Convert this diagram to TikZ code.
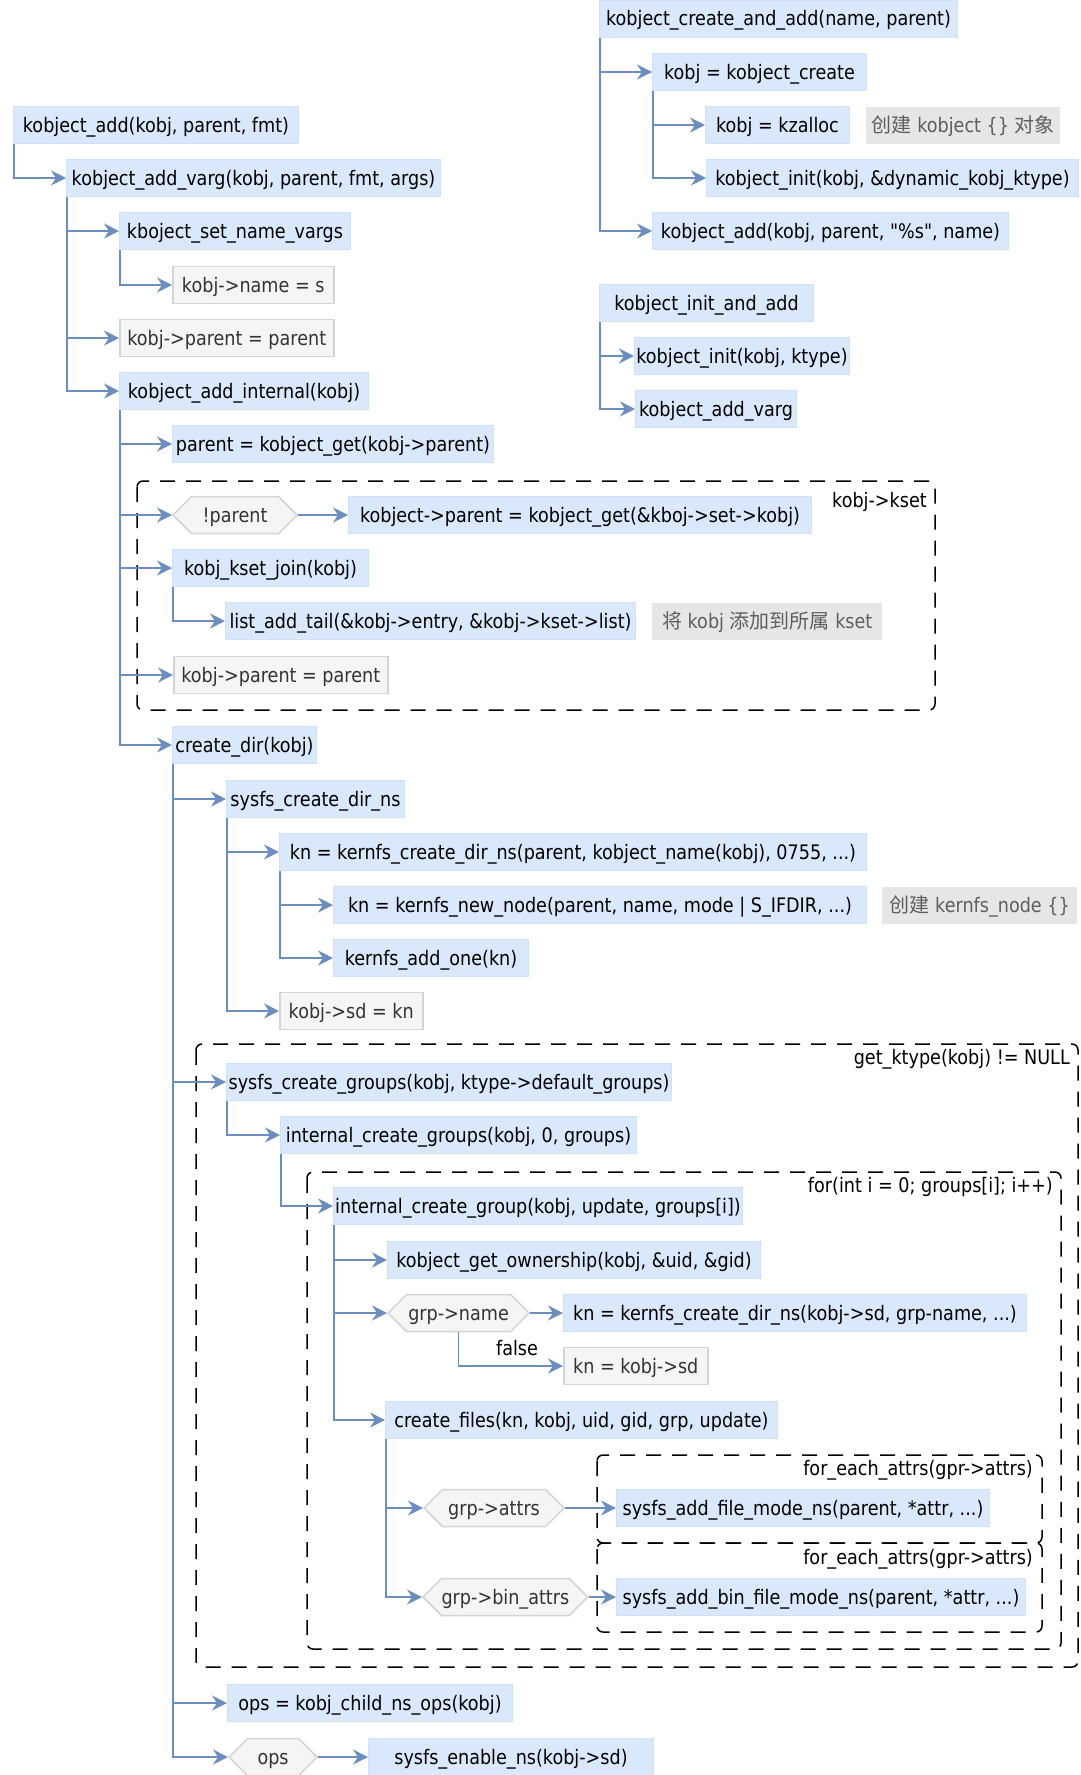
\documentclass[tikz,border=0pt]{standalone}
\usepackage{fontspec}
\setmainfont{DejaVu Sans}[FakeStretch=0.88, Ligatures=TeXOff]
\newfontfamily\cjk{Noto Sans CJK SC}
\usepackage{xcolor}
\usepackage{tikz}
\usetikzlibrary{arrows.meta,shapes.symbols}

\definecolor{fnblue}{HTML}{DAE8FC}
\definecolor{fnedge}{HTML}{CFE1FA}
\definecolor{valgray}{HTML}{F5F5F5}
\definecolor{valedge}{HTML}{D4D4D4}
\definecolor{valtext}{HTML}{333333}
\definecolor{notegray}{HTML}{E6E6E6}
\definecolor{notetext}{HTML}{5E5E5E}
\definecolor{linkblue}{HTML}{6C8EBF}

\begin{document}
\begin{tikzpicture}[x=1pt, y=-1pt, font=\fontsize{20}{24}\selectfont,
    cell/.style={anchor=west, minimum height=37pt, inner sep=0pt,
      text height=17pt, text depth=3pt},
    fn/.style={cell, fill=fnblue, draw=fnedge, line width=1pt},
    val/.style={cell, fill=valgray, draw=valedge, line width=1.5pt, text=valtext},
    cond/.style={cell, signal, signal to=east and west, signal pointer angle=90,
      fill=valgray, draw=valedge, line width=1.5pt, text=valtext},
    note/.style={cell, fill=notegray, text=notetext},
    link/.style={draw=linkblue, line width=1.6pt,
      -{Stealth[length=15pt, width=15pt, inset=5pt]}},
    scopebox/.style={draw=black, line width=1.5pt, dash pattern=on 15pt off 11pt,
      rounded corners=6pt},
    boxlabel/.style={inner sep=0pt, text=black}]
    \useasboundingbox (0,0) rectangle (1080,1775);
    % ── Dashed scopes ───────────────────────────────────────────────────────
    \draw[scopebox] (137,481) rectangle (935,710);
    \draw[scopebox] (196,1044) rectangle (1078,1667);
    \draw[scopebox] (307,1172) rectangle (1061,1649);
    \draw[scopebox] (597,1455) rectangle (1042,1543);
    \draw[scopebox] (597,1543) rectangle (1042,1632);
    \node[boxlabel, anchor=east] (ksetlbl) at (927,502) {kobj->kset};
    \node[boxlabel, anchor=east] (ktypelbl) at (1070,1059) {get\_ktype(kobj) != NULL};
    \node[boxlabel, anchor=east] (forlbl) at (1053,1187) {for(int i = 0; groups[i]; i++)};
    \node[boxlabel, anchor=east] (eachlbla) at (1033,1470) {for\_each\_attrs(gpr->attrs)};
    \node[boxlabel, anchor=east] (eachlblb) at (1033,1559) {for\_each\_attrs(gpr->attrs)};
    % ── kobject_add ─────────────────────────────────────────────────────────
    \node[fn, minimum width=285pt] (kadd) at (13,125) {kobject\_add(kobj, parent, fmt)};
    \node[fn, minimum width=374pt] (kvarg) at (66,178) {kobject\_add\_varg(kobj, parent, fmt, args)};
    \node[fn, minimum width=231pt] (setname) at (119,231) {kboject\_set\_name\_vargs};
    \node[val, minimum width=161pt] (namesn) at (172,285) {kobj->name = s};
    \node[val, minimum width=214pt] (parenta) at (119,338) {kobj->parent = parent};
    \node[fn, minimum width=249pt] (internal) at (119,391) {kobject\_add\_internal(kobj)};
    \node[fn, minimum width=321pt] (getparent) at (172,444) {parent = kobject\_get(kobj->parent)};
    % kset part, inside the first dashed box
    \node[cond, minimum width=124pt] (notparent) at (172,515) {!parent};
    \node[fn, minimum width=463pt] (ksetget) at (348,515) {kobject->parent = kobject\_get(\&kboj->set->kobj)};
    \node[fn, minimum width=196pt] (ksetjoin) at (172,568) {kobj\_kset\_join(kobj)};
    \node[fn, minimum width=410pt] (listadd) at (225,621) {list\_add\_tail(\&kobj->entry, \&kobj->kset->list)};
    \node[note, minimum width=230pt] (joinnote) at (652,621) {{\cjk 将} kobj {\cjk 添加到所属} kset};
    \node[val, minimum width=214pt] (parentb) at (173,675) {kobj->parent = parent};
    % ── create_dir ──────────────────────────────────────────────────────────
    \node[fn, minimum width=144pt] (createdir) at (172,745) {create\_dir(kobj)};
    \node[fn, minimum width=178pt] (sysdir) at (226,799) {sysfs\_create\_dir\_ns};
    \node[fn, minimum width=587pt] (kncreate) at (279,852) {kn = kernfs\_create\_dir\_ns(parent, kobject\_name(kobj), 0755, ...)};
    \node[fn, minimum width=533pt] (knnew) at (333,905) {kn = kernfs\_new\_node(parent, name, mode | S\_IFDIR, ...)};
    \node[note, minimum width=195pt] (knnote) at (882,905) {{\cjk 创建} kernfs\_node \{\}};
    \node[fn, minimum width=195pt] (addone) at (333,958) {kernfs\_add\_one(kn)};
    \node[val, minimum width=143pt] (sdkn) at (279,1011) {kobj->sd = kn};
    % ── groups (get_ktype != NULL) ──────────────────────────────────────────
    \node[fn, minimum width=445pt] (sysgroups) at (226,1082) {sysfs\_create\_groups(kobj, ktype->default\_groups)};
    \node[fn, minimum width=356pt] (intgroups) at (280,1135) {internal\_create\_groups(kobj, 0, groups)};
    \node[fn, minimum width=409pt] (intgroup) at (333,1206) {internal\_create\_group(kobj, update, groups[i])};
    \node[fn, minimum width=373pt] (owner) at (387,1260) {kobject\_get\_ownership(kobj, \&uid, \&gid)};
    \node[cond, minimum width=141pt] (grpname) at (387,1313) {grp->name};
    \node[fn, minimum width=463pt] (kngrp) at (563,1313) {kn = kernfs\_create\_dir\_ns(kobj->sd, grp-name, ...)};
    \node[val, minimum width=144pt] (knsd) at (563,1366) {kn = kobj->sd};
    \node[boxlabel] (falselbl) at (517,1348) {false};
    \node[fn, minimum width=392pt] (createfiles) at (385,1420) {create\_files(kn, kobj, uid, gid, grp, update)};
    \node[cond, minimum width=140pt] (attrs) at (423,1508) {grp->attrs};
    \node[fn, minimum width=373pt] (addfile) at (616,1508) {sysfs\_add\_file\_mode\_ns(parent, *attr, ...)};
    \node[cond, minimum width=160pt] (binattrs) at (422,1597) {grp->bin\_attrs};
    \node[fn, minimum width=409pt] (addbin) at (616,1597) {sysfs\_add\_bin\_file\_mode\_ns(parent, *attr, ...)};
    % ── ns ops ──────────────────────────────────────────────────────────────
    \node[fn, minimum width=285pt] (childops) at (227,1703) {ops = kobj\_child\_ns\_ops(kobj)};
    \node[cond, minimum width=88pt] (ops) at (228,1757) {ops};
    \node[fn, minimum width=285pt] (enablens) at (368,1757) {sysfs\_enable\_ns(kobj->sd)};
    % ── kobject_create_and_add / kobject_init_and_add ───────────────────────
    \node[fn, minimum width=358pt] (cradd) at (599,18.5) {kobject\_create\_and\_add(name, parent)};
    \node[fn, minimum width=214pt] (kcreate) at (652,72) {kobj = kobject\_create};
    \node[fn, minimum width=144pt] (kzalloc) at (705,125) {kobj = kzalloc};
    \node[note, minimum width=194pt] (kznote) at (866,125) {{\cjk 创建} kobject \{\} {\cjk 对象}};
    \node[fn, minimum width=372pt] (kinita) at (706,178) {kobject\_init(kobj, \&dynamic\_kobj\_ktype)};
    \node[fn, minimum width=356pt] (kaddname) at (652,231) {kobject\_add(kobj, parent, "\%s", name)};
    \node[fn, minimum width=214pt] (initadd) at (599,303) {kobject\_init\_and\_add};
    \node[fn, minimum width=215pt] (kinitb) at (634,356) {kobject\_init(kobj, ktype)};
    \node[fn, minimum width=161pt] (kvargb) at (635,409) {kobject\_add\_varg};
    % ── Calls ───────────────────────────────────────────────────────────────
    \draw[link] ([xshift=1pt]kadd.south west) |- (kvarg.west);
    \draw[link] ([xshift=1pt]kvarg.south west) |- (setname.west);
    \draw[link] ([xshift=1pt]kvarg.south west) |- (parenta.west);
    \draw[link] ([xshift=1pt]kvarg.south west) |- (internal.west);
    \draw[link] ([xshift=1pt]setname.south west) |- (namesn.west);
    \draw[link] ([xshift=1pt]internal.south west) |- (getparent.west);
    \draw[link] ([xshift=1pt]internal.south west) |- (notparent.west);
    \draw[link] ([xshift=1pt]internal.south west) |- (ksetjoin.west);
    \draw[link] ([xshift=1pt]internal.south west) |- (parentb.west);
    \draw[link] ([xshift=1pt]internal.south west) |- (createdir.west);
    \draw[link] (notparent.east) -- (ksetget.west);
    \draw[link] ([xshift=1pt]ksetjoin.south west) |- (listadd.west);
    \draw[link] ([xshift=1pt]createdir.south west) |- (sysdir.west);
    \draw[link] ([xshift=1pt]createdir.south west) |- (sysgroups.west);
    \draw[link] ([xshift=1pt]createdir.south west) |- (childops.west);
    \draw[link] ([xshift=1pt]createdir.south west) |- (ops.west);
    \draw[link] ([xshift=1pt]sysdir.south west) |- (kncreate.west);
    \draw[link] ([xshift=1pt]sysdir.south west) |- (sdkn.west);
    \draw[link] ([xshift=1pt]kncreate.south west) |- (knnew.west);
    \draw[link] ([xshift=1pt]kncreate.south west) |- (addone.west);
    \draw[link] ([xshift=1pt]sysgroups.south west) |- (intgroups.west);
    \draw[link] ([xshift=1pt]intgroups.south west) |- (intgroup.west);
    \draw[link] ([xshift=1pt]intgroup.south west) |- (owner.west);
    \draw[link] ([xshift=1pt]intgroup.south west) |- (grpname.west);
    \draw[link] ([xshift=1pt]intgroup.south west) |- (createfiles.west);
    \draw[link] (grpname.east) -- (kngrp.west);
    \draw[link] (grpname.south) |- (knsd.west);
    \draw[link] ([xshift=1pt]createfiles.south west) |- (attrs.west);
    \draw[link] ([xshift=1pt]createfiles.south west) |- (binattrs.west);
    \draw[link] (attrs.east) -- (addfile.west);
    \draw[link] (binattrs.east) -- (addbin.west);
    \draw[link] (ops.east) -- (enablens.west);
    \draw[link] ([xshift=1pt]cradd.south west) |- (kcreate.west);
    \draw[link] ([xshift=1pt]cradd.south west) |- (kaddname.west);
    \draw[link] ([xshift=1pt]kcreate.south west) |- (kzalloc.west);
    \draw[link] ([xshift=1pt]kcreate.south west) |- (kinita.west);
    \draw[link] ([xshift=1pt]initadd.south west) |- (kinitb.west);
    \draw[link] ([xshift=1pt]initadd.south west) |- (kvargb.west);
\end{tikzpicture}
\end{document}
